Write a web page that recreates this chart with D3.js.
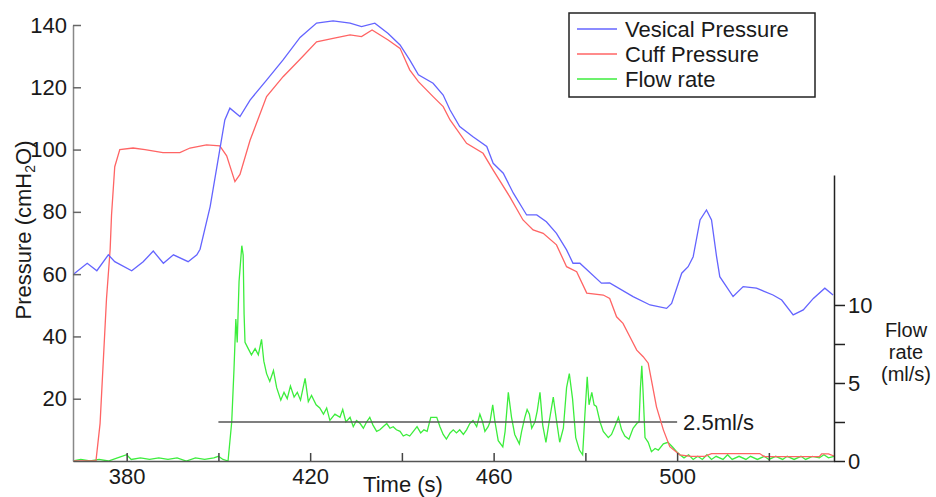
<!DOCTYPE html>
<html><head><meta charset="utf-8">
<script src="https://cdn.jsdelivr.net/npm/d3@7"></script>
<style>
body{margin:0;background:#fff;}
svg text{font-family:"Liberation Sans",Arial,sans-serif;fill:#1a1a1a;}
</style></head>
<body><svg id="c" width="936" height="497"></svg>
<script>
// ---- data: [time (s), value] ----
const vesical = [[368.4,60],[371.4,63.5],[373.5,61.1],[376.0,66.2],[377.4,64],[381.1,61.1],[383.6,64],[385.8,67.4],[388.0,63.5],[390.2,66.2],[393.4,64],[395.3,66.2],[396.0,68],[398.2,81.7],[400.3,100],[401.4,109.5],[402.5,113.3],[404.7,110.6],[406.9,115.9],[410.5,122.3],[414.1,128.8],[417.8,136],[421.4,140.6],[425.0,141.3],[428.7,140.6],[431.2,139.5],[434.1,140.6],[437.0,137.3],[439.6,133.6],[441.7,128.8],[443.6,124],[446.8,121.3],[449.0,117.5],[450.5,112.7],[452.6,107.4],[455.5,104.1],[458.5,101],[459.9,95.6],[462.1,92.4],[464.3,86],[467.2,79],[469.4,79],[471.5,76.8],[473.7,73.1],[475.9,67.8],[477.3,63.5],[478.8,63.5],[483.5,57.1],[485.3,57.2],[490.4,52.8],[494.1,50.1],[497.7,49],[498.8,50.6],[501.0,60.3],[502.4,62.4],[503.5,65.6],[505.0,77.4],[506.4,80.6],[507.5,77.4],[508.6,65.6],[509.3,59.2],[512.2,52.8],[514.4,56],[517.3,55.5],[520.9,53.3],[522.8,51.7],[525.3,46.9],[527.5,48.5],[529.7,52.2],[532.2,55.5],[534.0,53.3]];

const cuff = [[368.3,0],[373.3,0],[374.2,12],[375.6,52],[376.4,68],[376.7,79],[377.4,94.5],[378.5,100],[381.4,100.5],[384.0,100],[387.9,99],[391.6,99],[393.8,100.5],[397.4,101.5],[400.3,101.2],[401.8,98],[403.6,89.7],[404.7,92],[406.9,103],[410.5,117],[414.1,123.4],[417.8,129],[421.4,134.6],[425.0,135.7],[428.7,136.8],[431.2,136.3],[433.5,138.4],[437.0,135.2],[439.6,132.5],[441.7,125.6],[443.6,121.8],[446.8,117],[449.0,113.8],[450.5,109.5],[454.1,102],[457.7,98.8],[459.9,93.4],[463.5,84.9],[466.4,77.4],[468.6,74.2],[470.8,73.1],[473.7,69.4],[475.9,62.4],[478.1,60.8],[480.3,53.9],[483.9,53.3],[485.3,52.2],[486.8,46.3],[488.2,44.2],[489.7,39.9],[491.2,35.6],[492.6,33.5],[493.7,31.4],[494.4,26],[495.5,17.4],[497.0,10],[498.4,4.6],[500.6,2.0],[503.0,1.5],[506.0,1.5],[507.5,2.4],[518.0,2.4],[519.0,1.4],[531.0,1.4],[531.5,2.3],[533.0,2.3],[534.2,1.6]];

const flow = [[368.3,0],[370,0.1],[372,0],[374,0.1],[376,0],[378,0.2],[380,0.4],[381,0.1],[383,0.2],[385,0.1],[387,0.2],[389,0.1],[391,0.2],[393,0],[395,0.2],[397,0.1],[399,0.2],[400,0.3],[401,0.1],[402.1,0],
[402.9,2.5],[403.4,5.9],[403.8,9.1],[404.1,7.6],[404.5,11.5],[405.1,13.8],[405.4,13.2],[405.6,9.4],[405.8,7.6],[406.5,7.2],[407.2,6.8],[408.0,7.2],[408.7,6.8],[409.4,7.8],[409.9,6.4],[410.5,5.6],[411.2,5.1],[412.0,5.8],[412.7,4.7],[413.6,3.9],[414.3,4.4],[415.0,4.0],[415.7,4.8],[416.5,4.1],[417.2,4.4],[417.9,3.9],[418.9,5.3],[419.6,3.8],[420.3,4.2],[421.3,3.6],[422.1,3.4],[422.9,3.0],[423.6,3.4],[424.3,2.6],[425.4,3.0],[426.5,2.8],
[427.1,3.3],[427.8,2.5],[428.7,2.8],[429.4,2.2],[430.1,2.6],[430.9,2.4],[431.6,2.1],[432.3,2.5],[433.0,2.8],[433.7,2.3],[434.5,1.9],[435.2,2.0],[435.9,2.2],[436.7,2.4],[437.4,2.1],[438.1,2.2],[438.8,2.0],[439.6,1.9],[440.3,1.6],[441.0,1.7],[441.7,1.6],[442.5,1.9],[443.3,2.2],[444.1,1.8],[444.8,2.0],[445.5,1.9],[446.3,2.8],[447.0,2.8],[447.6,2.8],[448.3,2.2],[449.0,1.7],[449.7,1.4],[450.5,1.8],[451.2,2.0],[451.9,1.8],[452.6,2.0],[453.4,1.7],[454.1,2.0],[454.8,2.4],[455.5,2.6],[456.3,2.2],[457.0,3.0],[457.6,2.5],[458.1,1.9],[458.8,2.2],
[459.2,2.5],[459.8,3.6],[460.3,2.5],[461.0,1.3],[462.0,0.9],[462.5,1.9],[463.2,4.4],[463.9,2.8],[464.6,1.7],[465.6,1.1],[466.1,1.9],[466.8,2.8],[467.3,3.3],[467.8,3.0],[468.3,2.1],[469.0,2.5],[469.5,3.2],[470.1,4.4],[470.7,2.3],[471.4,1.2],[472.1,2.5],[473.0,4.1],[473.7,2.6],[474.4,1.2],[475.2,2.1],[475.9,4.7],[476.5,5.6],[477.2,4.0],[477.9,1.5],[478.7,0.7],[479.4,0.4],[479.9,3.0],[480.4,5.4],[480.8,3.6],[481.4,4.4],[481.9,3.6],[482.4,3.5],[483.2,2.5],[483.9,1.9],[485.0,1.5],[485.7,1.7],[486.4,2.2],[487.2,2.8],[487.9,2.0],[488.6,1.6],[489.5,1.4],[490.4,2.1],[491.2,2.4],[491.7,2.5],[492.0,4.7],[492.3,6.1],[492.6,4.3],[493.0,1.5],[493.7,1.2],[494.4,0.6],[495.2,0.8],[495.9,0.7],[497.0,1.1],[498.0,1.2],[499.0,0.9],[499.9,0.6],[500.6,0.4],
[501.5,0.2],[502.5,0.4],[503.5,0.1],[504.5,0.3],[505.5,0.1],[506.5,0.4],[507.5,0.1],[508.5,0.3],[510,0.1],[511,0.4],[512,0.1],[513.5,0.3],[515,0.1],[516,0.3],[517.5,0.1],[519,0.3],[520,0.1],[521.5,0.3],[523,0.1],[524,0.3],[525.5,0.1],[527,0.3],[528,0.1],[529.5,0.3],[531,0.2],[532,0.4],[533,0.2],[534.2,0.3]];

const thresholdFlow = 2.5;
const thresholdSpan = [400, 500];
const thresholdLabel = "2.5ml/s";
const xTicks = [380, 400, 420, 440, 460, 480, 500, 520];
const xLabelled = [380, 420, 460, 500];
const pTicks = [20, 40, 60, 80, 100, 120, 140];
const fTicks = [0, 2.5, 5, 7.5, 10];
const fLabelled = [0, 5, 10];
const legendItems = ["Vesical Pressure", "Cuff Pressure", "Flow rate"];
const flowTitle = ["Flow", "rate", "(ml/s)"];
const colors = {vesical: "#6464ff", cuff: "#ff6464", flow: "#3ced3c"};

// ---- scales ----
const svg = d3.select("#c");
const x = d3.scaleLinear().domain([368.3, 534.2]).range([73, 834]);
const yP = d3.scaleLinear().domain([0, 140]).range([461, 25]);
const yF = d3.scaleLinear().domain([0, 18.33]).range([461, 175]);

// ---- lines ----
const lineP = d3.line().x(d => x(d[0])).y(d => yP(d[1]));
const lineF = d3.line().x(d => x(d[0])).y(d => yF(d[1]));

svg.append("path").datum(flow).attr("d", lineF)
  .attr("fill", "none").attr("stroke", colors.flow).attr("stroke-width", 1.3);

svg.append("line")
  .attr("x1", x(thresholdSpan[0])).attr("x2", x(thresholdSpan[1]))
  .attr("y1", yF(thresholdFlow)).attr("y2", yF(thresholdFlow))
  .attr("stroke", "#555").attr("stroke-width", 1.5);
svg.append("text").attr("x", x(thresholdSpan[1]) + 6).attr("y", yF(thresholdFlow) + 8)
  .attr("font-size", 22).text(thresholdLabel);

svg.append("path").datum(cuff).attr("d", lineP)
  .attr("fill", "none").attr("stroke", colors.cuff).attr("stroke-width", 1.3);
svg.append("path").datum(vesical).attr("d", lineP)
  .attr("fill", "none").attr("stroke", colors.vesical).attr("stroke-width", 1.3);

// ---- axes ----
const gL = svg.append("g").attr("transform", "translate(73,0)")
  .call(d3.axisLeft(yP).tickValues(pTicks).tickSizeInner(-8).tickSizeOuter(0).tickPadding(6));
gL.select(".domain").attr("stroke", "#888").attr("stroke-width", 1.5);
gL.selectAll(".tick line").attr("stroke", "#666").attr("stroke-width", 1.5);
gL.selectAll("text").attr("font-size", 22).attr("font-family", "Liberation Sans, Arial").attr("fill", "#1a1a1a");

const gB = svg.append("g").attr("transform", "translate(0,461)")
  .call(d3.axisBottom(x).tickValues(xTicks).tickSizeInner(-8).tickSizeOuter(0).tickPadding(7)
    .tickFormat(d => xLabelled.includes(d) ? d : ""));
gB.select(".domain").attr("stroke", "#555").attr("stroke-width", 1.5);
gB.selectAll(".tick line").attr("stroke", "#444").attr("stroke-width", 1.5);
gB.selectAll("text").attr("font-size", 22).attr("font-family", "Liberation Sans, Arial").attr("fill", "#1a1a1a");

const gR = svg.append("g").attr("transform", "translate(834,0)")
  .call(d3.axisRight(yF).tickValues(fTicks).tickSizeInner(11).tickSizeOuter(0).tickPadding(3)
    .tickFormat(d => fLabelled.includes(d) ? d : ""));
gR.select(".domain").attr("stroke", "#222").attr("stroke-width", 1.5);
gR.selectAll(".tick line").attr("stroke", "#222").attr("stroke-width", 1.5);
gR.selectAll("text").attr("font-size", 22).attr("font-family", "Liberation Sans, Arial").attr("fill", "#1a1a1a");

// ---- axis titles ----
const yl = svg.append("text").attr("transform", "translate(31,230) rotate(-90)")
  .attr("text-anchor", "middle").attr("font-size", 22);
yl.append("tspan").text("Pressure (cmH");
yl.append("tspan").attr("font-size", 14).attr("dy", 4).text("2");
yl.append("tspan").attr("dy", -4).text("O)");

svg.append("text").attr("x", 403).attr("y", 492).attr("text-anchor", "middle")
  .attr("font-size", 22).text("Time (s)");

flowTitle.forEach((s, i) => {
  svg.append("text").attr("x", 906).attr("y", 337 + i * 22).attr("text-anchor", "middle")
    .attr("font-size", 20).text(s);
});

// ---- legend ----
const lg = svg.append("g");
lg.append("rect").attr("x", 569).attr("y", 13).attr("width", 246).attr("height", 84)
  .attr("fill", "#fff").attr("stroke", "#222").attr("stroke-width", 1.5);
const lc = [colors.vesical, colors.cuff, colors.flow];
const ly = d3.scalePoint().domain(legendItems).range([29, 79]);
legendItems.forEach((s, i) => {
  lg.append("line").attr("x1", 577).attr("x2", 617).attr("y1", ly(s)).attr("y2", ly(s))
    .attr("stroke", lc[i]).attr("stroke-width", 1.5);
  lg.append("text").attr("x", 625).attr("y", ly(s) + 8).attr("font-size", 22).text(s);
});
</script></body></html>
